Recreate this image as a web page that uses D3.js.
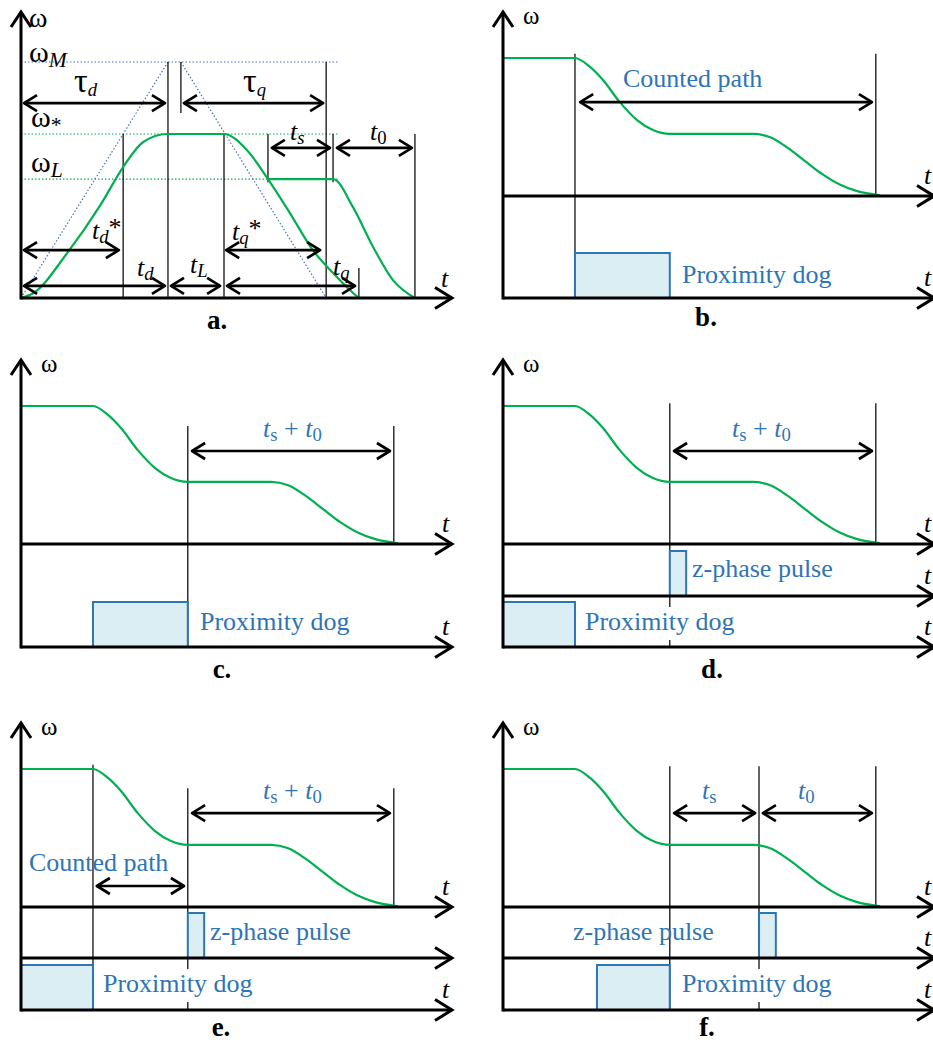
<!DOCTYPE html>
<html>
<head>
<meta charset="utf-8">
<script src="https://cdn.jsdelivr.net/npm/d3@7"></script>
<style>
body { margin: 0; background: #fff; }
svg { display: block; font-family: "Liberation Serif", "Times New Roman", serif; }
</style>
</head>
<body>
<svg width="933" height="1043"></svg>
<script>
var svg = d3.select("svg");

var green = "#00b050", blue = "#2e75b6", fillBlue = "#daeef3", guideBlue = "#4a6fc9";

// time runs 0..100 along every t-axis, speed ω is a fraction of the reference level
// speed profile used in panels b..f
var speedBF = [[0,1],[16.7,1],[20.2,0.935],[23.2,0.84],[27.1,0.68],[31.1,0.55],[34.8,0.478],[38.7,0.45],
               [58,0.45],[62,0.425],[66,0.35],[70,0.255],[74,0.16],[78,0.085],[82,0.037],[87.5,0.005]];

// panel a: accel / constant / decel, plus the branch through ωL
var speedA = [[0,0],[2.8,0.02],[10.7,0.19],[18.3,0.39],[23.7,0.555],[28.3,0.66],[33.9,0.695],[47.1,0.695],
              [52.4,0.627],[57.3,0.504],[62.4,0.36],[67.7,0.203],[72.4,0.106],[76.3,0.034],[78.4,0]];
var speedA2 = [[57.3,0.504],[72.4,0.504],[77.0,0.386],[81.7,0.216],[86.3,0.076],[91.4,0]];
var levelNamesA = ["M", "*", "L"];
var levelsA = [1, 0.695, 0.504];
var guidesA = [[0,0,34.1,1],[37.1,1,70.8,0]];
// t, ω top, ω bottom
var markersA = [[23.7,0.695,0],[34.1,1,0],[37.1,1,0.784],[47.1,0.695,0],[57.3,0.695,0.49],
                [70.8,1,0],[72.4,0.695,0.49],[78.4,0.127,0],[91.4,0.695,0]];
// from, to, ω, symbol, subscript, star
var spansA = [[0.7,33.4,0.826,"τ","d",""],[37.8,70.1,0.826,"τ","q",""],[58.2,71.7,0.636,"t","s",""],
              [73.3,90.7,0.636,"t","0",""],[0.7,22.7,0.203,"t","d","*"],[47.6,69.4,0.203,"t","q","*"],
              [0.7,33.4,0.051,"t","d",""],[34.8,46.2,0.051,"t","L",""],[47.8,77.5,0.051,"t","q",""]];

// panels b..f: markers [t, ω top, runs down through signal rows]
var markersB = [[16.7,1.03,true],[86.5,1.03,false]];
var markersC = [[38.7,0.855,true],[86.5,0.855,false]];
var markersD = [[38.7,1.02,true],[86.5,1.02,false]];
var markersE = [[16.7,1.03,true],[38.7,0.86,true],[86.5,0.86,false]];
var markersF = [[38.7,1.02,true],[59.4,1.02,true],[86.5,1.02,false]];
// double arrows [from, to, ω]
var spansB = [[17.9,85.6,0.68]];
var spansC = [[39.7,85.6,0.674]];
var spansD = [[39.7,85.6,0.674]];
var spansE = [[39.7,85.6,0.68],[17.6,37.8,0.152]];
var spansF = [[39.7,58.5,0.68],[60.3,85.6,0.68]];
// proximity dog and z-phase pulse [start, end]
var dogB = [16.7,38.7], dogC = [16.7,38.7], dogD = [0,16.7], dogE = [0,16.7], dogF = [21.8,38.7];
var pulseD = [38.7,42.5], pulseE = [38.7,42.5], pulseF = [59.4,63.3];

var tsT0 = [["t","i"],["s","sub"],[" + ",""],["t","i"],["0","sub"]];
var counted = [["Counted path",""]], dogText = [["Proximity dog",""]], zText = [["z-phase pulse",""]];

// ---------- helpers ----------
function rich(g, x, y, parts, size, color, anchor) {
  var t = g.append("text").attr("x", x).attr("y", y).attr("font-size", size)
    .attr("fill", color || "#000").attr("text-anchor", anchor || "start");
  var shift = 0;
  parts.forEach(function(p) {
    var k = p[1] || "", target = 0, fs = p[2] || size;
    if (k.indexOf("sub") === 0) target = size * 0.16;
    if (k === "star") target = -size * 0.12;
    var s = t.append("tspan").text(p[0]).attr("dy", target - shift);
    shift = target;
    if (k.indexOf("sub") === 0) s.attr("font-size", size * 0.72);
    else if (p[2]) s.attr("font-size", fs);
    if (k === "i" || k === "subi") s.attr("font-style", "italic");
  });
  return t;
}

function line(g, x1, y1, x2, y2, color, w) {
  return g.append("line").attr("x1", x1).attr("y1", y1).attr("x2", x2).attr("y2", y2)
    .attr("stroke", color).attr("stroke-width", w);
}

function dimArrow(g, xa, xb, y) {
  line(g, xa + 1, y, xb - 1, y, "#000", 2.7);
  g.append("path").attr("d", "M" + (xa + 13) + "," + (y - 8) + "L" + xa + "," + y + "L" + (xa + 13) + "," + (y + 8))
    .attr("fill", "none").attr("stroke", "#000").attr("stroke-width", 2.7).attr("stroke-linejoin", "round");
  g.append("path").attr("d", "M" + (xb - 13) + "," + (y - 8) + "L" + xb + "," + y + "L" + (xb - 13) + "," + (y + 8))
    .attr("fill", "none").attr("stroke", "#000").attr("stroke-width", 2.7).attr("stroke-linejoin", "round");
}

function tAxis(g, x, y) {
  var x1 = x.range()[0], x2 = x.range()[1];
  line(g, x1, y, x2 - 1, y, "#000", 3);
  g.append("path").attr("d", "M" + (x2 - 17) + "," + (y - 10.5) + "L" + x2 + "," + y + "L" + (x2 - 17) + "," + (y + 10.5))
    .attr("fill", "none").attr("stroke", "#000").attr("stroke-width", 3);
}

function wAxis(g, x0, top, bottom) {
  line(g, x0, bottom + 1.5, x0, top + 1, "#000", 3);
  g.append("path").attr("d", "M" + (x0 - 10) + "," + (top + 15) + "L" + x0 + "," + top + "L" + (x0 + 10) + "," + (top + 15))
    .attr("fill", "none").attr("stroke", "#000").attr("stroke-width", 3);
}

var curve = d3.line().curve(d3.curveMonotoneX);

// ---------- panel a ----------
(function() {
  var g = svg.append("g");
  var x = d3.scaleLinear().domain([0, 100]).range([21, 452]);
  var y = d3.scaleLinear().domain([0, 1]).range([298, 62]);

  levelsA.forEach(function(v, i) {
    line(g, x(0), y(v), x(73.5), y(v), i === 0 ? guideBlue : green, 1.2).attr("stroke-dasharray", "1.5,2");
  });
  guidesA.forEach(function(d) {
    line(g, x(d[0]), y(d[1]), x(d[2]), y(d[3]), guideBlue, 1.2).attr("stroke-dasharray", "1.5,2");
  });
  markersA.forEach(function(d) {
    line(g, x(d[0]), y(d[1]), x(d[0]), y(d[2]), "#111", 1.3);
  });

  curve.x(function(d) { return x(d[0]); }).y(function(d) { return y(d[1]); });
  [speedA, speedA2].forEach(function(s) {
    g.append("path").attr("d", curve(s)).attr("fill", "none").attr("stroke", green).attr("stroke-width", 2.2);
  });

  wAxis(g, 21, 12, 298);
  tAxis(g, x, 298);

  var labelPosA = [[74,92],[243,92],[290,140],[370,140],[92,239],[232,240],[137,276],[190,273],[333,275]];
  spansA.forEach(function(d, i) {
    dimArrow(g, x(d[0]), x(d[1]), y(d[2]));
    var parts = [[d[3], d[3] === "t" ? "i" : "", d[3] === "τ" ? 34 : 0], [d[4], d[4] === "0" ? "sub" : "subi"]];
    if (d[5]) parts.push([d[5], "star"]);
    rich(g, labelPosA[i][0], labelPosA[i][1], parts, 26);
  });

  rich(g, 29, 27, [["ω", ""]], 28);
  var levelPos = [[29, 62], [31, 127], [31, 172]];
  levelNamesA.forEach(function(n, i) {
    var parts = n === "*" ? [["ω", ""], ["*", "sub"]] : [["ω", ""], [n, "subi"]];
    rich(g, levelPos[i][0], levelPos[i][1], parts, 30);
  });
  rich(g, 441, 287, [["t", "i"]], 26);
  g.append("text").attr("x", 217).attr("y", 329).attr("text-anchor", "middle")
    .attr("font-size", 27).attr("font-weight", "bold").text("a.");
})();

// ---------- panels b..f ----------
var panels = [
  {id: "b", x0: 503, base: 196, rows: [102], tl: [0, 1], markers: markersB, spans: spansB, dog: dogB, pulse: null,
   labels: [[counted, 623, 87], [dogText, 682, 283]], cap: [706, 326]},
  {id: "c", x0: 21, base: 544, rows: [103], tl: [0, 1], markers: markersC, spans: spansC, dog: dogC, pulse: null,
   labels: [[tsT0, 263, 437], [dogText, 200, 630]], cap: [222, 678]},
  {id: "d", x0: 503, base: 544, rows: [52, 103], tl: [0, 1, 2], markers: markersD, spans: spansD, dog: dogD, pulse: pulseD,
   labels: [[tsT0, 732, 437], [zText, 692, 577], [dogText, 585, 630]], cap: [712, 678]},
  {id: "e", x0: 21, base: 907, rows: [51, 103], tl: [0, 2], markers: markersE, spans: spansE, dog: dogE, pulse: pulseE,
   labels: [[tsT0, 263, 799], [counted, 29, 871], [zText, 210, 940], [dogText, 103, 992]], cap: [221, 1036]},
  {id: "f", x0: 503, base: 907, rows: [51, 103], tl: [0, 1, 2], markers: markersF, spans: spansF, dog: dogF, pulse: pulseF,
   labels: [[[["t","i"],["s","sub"]], 702, 799], [[["t","i"],["0","sub"]], 798, 799], [zText, 573, 940], [dogText, 682, 992]], cap: [707, 1036]}
];

panels.forEach(function(p) {
  var g = svg.append("g").attr("class", "panel-" + p.id);
  var x = d3.scaleLinear().domain([0, 100]).range([p.x0, p.x0 + 431]);
  var y = d3.scaleLinear().domain([0, 1]).range([p.base, p.base - 138]);
  var axesY = [p.base].concat(p.rows.map(function(r) { return p.base + r; }));
  var bottom = axesY[axesY.length - 1];
  var sig = function(axisY) { return d3.scaleLinear().domain([0, 1]).range([axisY, axisY - 45]); };

  p.markers.forEach(function(d) {
    line(g, x(d[0]), y(d[1]), x(d[0]), d[2] ? bottom : p.base, "#111", 1.3);
  });

  // white box behind the proximity dog label hides the marker lines
  p.labels.forEach(function(l) {
    if (l[0] === dogText) g.append("rect").attr("x", l[1] - 2).attr("y", l[2] - 23)
      .attr("width", 156).attr("height", 33).attr("fill", "#fff");
  });

  curve.x(function(d) { return x(d[0]); }).y(function(d) { return y(d[1]); });
  g.append("path").attr("d", curve(speedBF)).attr("fill", "none").attr("stroke", green).attr("stroke-width", 2.2);

  var sd = sig(bottom);
  g.append("rect").attr("x", x(p.dog[0])).attr("y", sd(1)).attr("width", x(p.dog[1]) - x(p.dog[0]))
    .attr("height", sd(0) - sd(1)).attr("fill", fillBlue).attr("stroke", blue).attr("stroke-width", 2);
  if (p.pulse) {
    var sp = sig(axesY[1]);
    g.append("rect").attr("x", x(p.pulse[0])).attr("y", sp(1)).attr("width", x(p.pulse[1]) - x(p.pulse[0]))
      .attr("height", sp(0) - sp(1)).attr("fill", fillBlue).attr("stroke", blue).attr("stroke-width", 2);
  }

  wAxis(g, p.x0, p.base - 184, bottom);
  axesY.forEach(function(ay) { tAxis(g, x, ay); });

  p.spans.forEach(function(d) { dimArrow(g, x(d[0]), x(d[1]), y(d[2])); });

  p.labels.forEach(function(l) { rich(g, l[1], l[2], l[0], 26, blue); });

  rich(g, p.x0 + 20, p.base - 172, [["ω", ""]], 25);
  p.tl.forEach(function(i) { rich(g, p.x0 + 421, axesY[i] - 12, [["t", "i"]], 26); });
  g.append("text").attr("x", p.cap[0]).attr("y", p.cap[1]).attr("text-anchor", "middle")
    .attr("font-size", 27).attr("font-weight", "bold").text(p.id + ".");
});
</script>
</body>
</html>
